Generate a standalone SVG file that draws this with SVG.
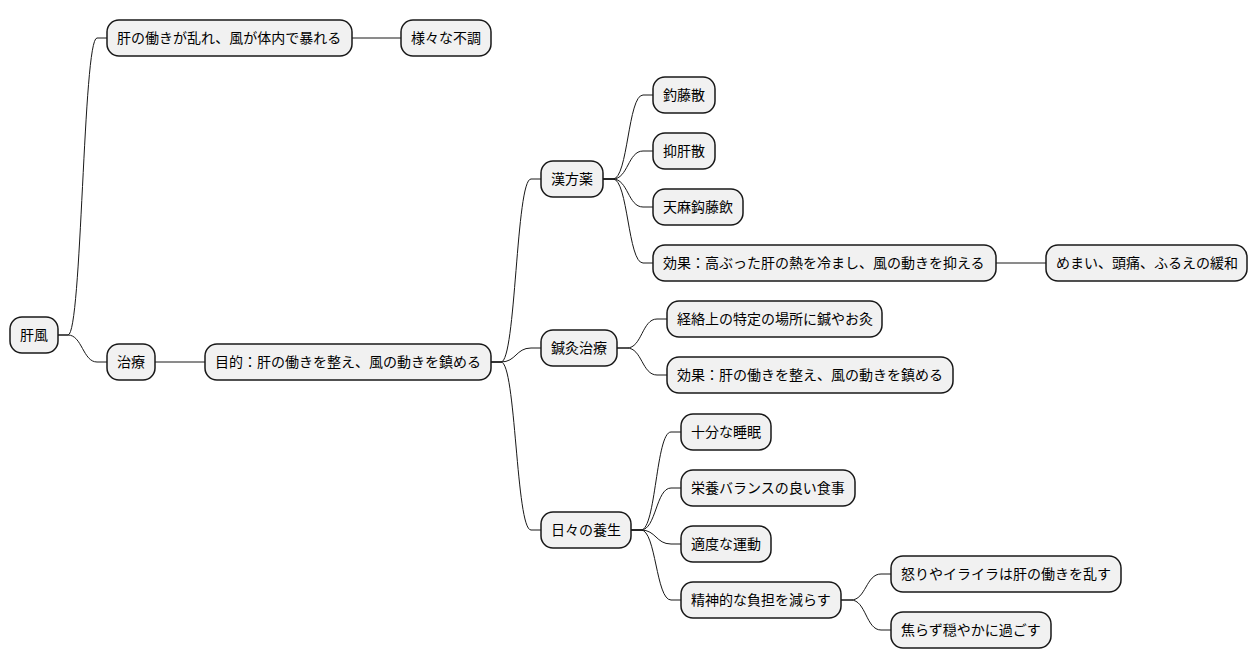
<svg xmlns="http://www.w3.org/2000/svg" width="1258" height="668" viewBox="0 0 1258 668">
<style>
.n rect{fill:#F1F1F1;stroke:#181818;stroke-width:1.5}
.n text{font-family:"Noto Sans CJK JP","Noto Sans CJK SC",sans-serif;font-size:14px;fill:#000}
.c path{fill:none;stroke:#181818;stroke-width:1}
</style>
<rect width="1258" height="668" fill="#FFFFFF"/>
<g class="c" id="connectors">
<path d="M58,335 L68,335 C82,335 83,38 97,38 L107,38"/>
<path d="M58,335 L68,335 C82,335 83,362 97,362 L107,362"/>
<path d="M352,38 L401,38"/>
<path d="M155,362 L205,362"/>
<path d="M491,362 L501,362 C516,362 516,179 531,179 L541,179"/>
<path d="M491,362 L501,362 C516,362 516,348 531,348 L541,348"/>
<path d="M491,362 L501,362 C516,362 516,530 531,530 L541,530"/>
<path d="M603,179 L613,179 C628,179 628,95 643,95 L653,95"/>
<path d="M603,179 L613,179 C628,179 628,151 643,151 L653,151"/>
<path d="M603,179 L613,179 C628,179 628,207 643,207 L653,207"/>
<path d="M603,179 L613,179 C628,179 628,263 643,263 L653,263"/>
<path d="M996,263 L1046,263"/>
<path d="M617,348 L627,348 C642,348 642,319 657,319 L667,319"/>
<path d="M617,348 L627,348 C642,348 642,375 657,375 L667,375"/>
<path d="M631,530 L641,530 C656,530 656,432 671,432 L681,432"/>
<path d="M631,530 L641,530 C656,530 656,488 671,488 L681,488"/>
<path d="M631,530 L641,530 C656,530 656,544 671,544 L681,544"/>
<path d="M631,530 L641,530 C656,530 656,600 671,600 L681,600"/>
<path d="M841,600 L851,600 C866,600 866,574 881,574 L891,574"/>
<path d="M841,600 L851,600 C866,600 866,630 881,630 L891,630"/>
</g>
<g class="n" id="n-root"><rect x="10" y="317" width="48" height="36" rx="12"/><text x="20" y="340">肝風</text></g>
<g class="n" id="n-a"><rect x="107" y="20" width="245" height="36" rx="12"/><text x="117" y="43">肝の働きが乱れ、風が体内で暴れる</text></g>
<g class="n" id="n-a1"><rect x="401" y="20" width="90" height="36" rx="12"/><text x="411" y="43">様々な不調</text></g>
<g class="n" id="n-b"><rect x="107" y="344" width="48" height="36" rx="12"/><text x="117" y="367">治療</text></g>
<g class="n" id="n-b1"><rect x="205" y="344" width="286" height="36" rx="12"/><text x="215" y="367">目的：肝の働きを整え、風の動きを鎮める</text></g>
<g class="n" id="n-k"><rect x="541" y="161" width="62" height="36" rx="12"/><text x="551" y="184">漢方薬</text></g>
<g class="n" id="n-k1"><rect x="653" y="77" width="62" height="36" rx="12"/><text x="663" y="100">釣藤散</text></g>
<g class="n" id="n-k2"><rect x="653" y="133" width="62" height="36" rx="12"/><text x="663" y="156">抑肝散</text></g>
<g class="n" id="n-k3"><rect x="653" y="189" width="90" height="36" rx="12"/><text x="663" y="212">天麻鈎藤飲</text></g>
<g class="n" id="n-k4"><rect x="653" y="245" width="343" height="36" rx="12"/><text x="663" y="268">効果：高ぶった肝の熱を冷まし、風の動きを抑える</text></g>
<g class="n" id="n-k4a"><rect x="1046" y="245" width="201" height="36" rx="12"/><text x="1056" y="268">めまい、頭痛、ふるえの緩和</text></g>
<g class="n" id="n-s"><rect x="541" y="330" width="76" height="36" rx="12"/><text x="551" y="353">鍼灸治療</text></g>
<g class="n" id="n-s1"><rect x="667" y="301" width="215" height="36" rx="12"/><text x="677" y="324">経絡上の特定の場所に鍼やお灸</text></g>
<g class="n" id="n-s2"><rect x="667" y="357" width="286" height="36" rx="12"/><text x="677" y="380">効果：肝の働きを整え、風の動きを鎮める</text></g>
<g class="n" id="n-y"><rect x="541" y="512" width="90" height="36" rx="12"/><text x="551" y="535">日々の養生</text></g>
<g class="n" id="n-y1"><rect x="681" y="414" width="90" height="36" rx="12"/><text x="691" y="437">十分な睡眠</text></g>
<g class="n" id="n-y2"><rect x="681" y="470" width="174" height="36" rx="12"/><text x="691" y="493">栄養バランスの良い食事</text></g>
<g class="n" id="n-y3"><rect x="681" y="526" width="90" height="36" rx="12"/><text x="691" y="549">適度な運動</text></g>
<g class="n" id="n-y4"><rect x="681" y="582" width="160" height="36" rx="12"/><text x="691" y="605">精神的な負担を減らす</text></g>
<g class="n" id="n-y4a"><rect x="891" y="556" width="230" height="36" rx="12"/><text x="901" y="579">怒りやイライラは肝の働きを乱す</text></g>
<g class="n" id="n-y4b"><rect x="891" y="612" width="160" height="36" rx="12"/><text x="901" y="635">焦らず穏やかに過ごす</text></g>
</svg>
